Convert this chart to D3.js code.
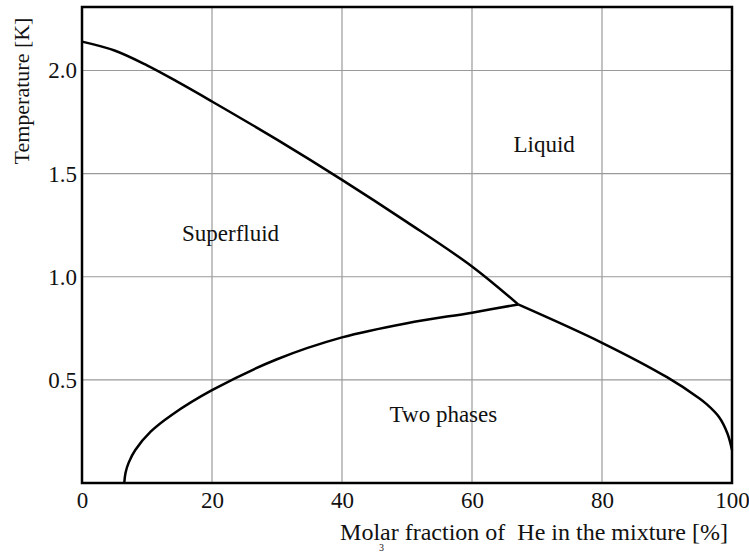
<!DOCTYPE html>
<html lang="en">
<head>
<meta charset="utf-8">
<title>He3-He4 phase diagram</title>
<script src="https://d3js.org/d3.v7.min.js"></script>
<style>
  body { margin: 0; background: #fff; }
  text { font-family: "Liberation Serif", "Times New Roman", serif; fill: #111; }
</style>
</head>
<body>
<script>
// tick values
var xTicks = [0, 20, 40, 60, 80, 100];
var yTicks = [0.5, 1.0, 1.5, 2.0];

// lambda line (superfluid transition)
var lambdaLine = [[0, 2.14], [5, 2.097], [10, 2.025], [15, 1.94], [20, 1.85],
                  [30, 1.665], [40, 1.47], [50, 1.265], [60, 1.05], [67.1, 0.866]];
// phase separation, He4-rich side
var leftBranch = [[6.5, 0], [6.7, 0.05], [7.2, 0.1], [8.2, 0.16], [10.6, 0.25],
                  [13.8, 0.33], [20, 0.45], [30, 0.6], [40, 0.706], [50, 0.775],
                  [60, 0.826], [67.1, 0.866]];
// phase separation, He3-rich side
var rightBranch = [[67.1, 0.866], [80, 0.68], [90, 0.513], [95, 0.41], [96, 0.385],
                   [98, 0.32], [99.3, 0.24], [100, 0.16]];

var regionLabels = [
  {text: "Liquid", x: 71.1, y: 1.606},
  {text: "Superfluid", x: 22.85, y: 1.171},
  {text: "Two phases", x: 55.6, y: 0.295}
];

var width = 749, height = 552;
var margin = {top: 7, right: 17, bottom: 69, left: 82};
var yMax = 2.308;

var svg = d3.select("body").append("svg")
    .attr("width", width)
    .attr("height", height);

var x = d3.scaleLinear().domain([0, 100]).range([margin.left, width - margin.right]);
var y = d3.scaleLinear().domain([0, yMax]).range([height - margin.bottom, margin.top]);

// grid
svg.append("g")
    .selectAll("line")
    .data(xTicks.slice(1, -1))
    .enter().append("line")
    .attr("x1", function (d) { return x(d); })
    .attr("x2", function (d) { return x(d); })
    .attr("y1", y(0))
    .attr("y2", y(yMax))
    .attr("stroke", "#9a9a9a")
    .attr("stroke-width", 1.2);

svg.append("g")
    .selectAll("line")
    .data(yTicks)
    .enter().append("line")
    .attr("x1", x(0))
    .attr("x2", x(100))
    .attr("y1", function (d) { return y(d); })
    .attr("y2", function (d) { return y(d); })
    .attr("stroke", "#9a9a9a")
    .attr("stroke-width", 1.2);

// curves
var line = d3.line()
    .x(function (d) { return x(d[0]); })
    .y(function (d) { return y(d[1]); })
    .curve(d3.curveCatmullRom.alpha(0.5));

[lambdaLine, leftBranch, rightBranch].forEach(function (data) {
  svg.append("path")
      .attr("d", line(data))
      .attr("fill", "none")
      .attr("stroke", "#000")
      .attr("stroke-width", 2.5);
});

// frame
svg.append("rect")
    .attr("x", x(0))
    .attr("y", y(yMax))
    .attr("width", x(100) - x(0))
    .attr("height", y(0) - y(yMax))
    .attr("fill", "none")
    .attr("stroke", "#000")
    .attr("stroke-width", 2.5);

// axes labels
var xAxis = d3.axisBottom(x).tickValues(xTicks).tickSize(0).tickPadding(9)
    .tickFormat(d3.format("d"));
var gx = svg.append("g")
    .attr("transform", "translate(0," + y(0) + ")")
    .call(xAxis);
gx.select(".domain").remove();
gx.selectAll("text")
    .style("font-family", "Liberation Serif")
    .style("font-size", "23px")
    .attr("fill", "#111");

var yAxis = d3.axisLeft(y).tickValues(yTicks).tickSize(0).tickPadding(5)
    .tickFormat(d3.format(".1f"));
var gy = svg.append("g")
    .attr("transform", "translate(" + x(0) + ",0)")
    .call(yAxis);
gy.select(".domain").remove();
gy.selectAll("text")
    .style("font-family", "Liberation Serif")
    .style("font-size", "23px")
    .attr("fill", "#111");

// region labels
svg.selectAll(".region")
    .data(regionLabels)
    .enter().append("text")
    .attr("class", "region")
    .attr("x", function (d) { return x(d.x); })
    .attr("y", function (d) { return y(d.y); })
    .attr("text-anchor", "middle")
    .style("font-size", "23px")
    .text(function (d) { return d.text; });

// axis titles
svg.append("text")
    .attr("x", 534)
    .attr("y", 540)
    .attr("text-anchor", "middle")
    .style("font-size", "24px")
    .style("white-space", "pre")
    .text("Molar fraction of  He in the mixture [%]");

svg.append("text")
    .attr("x", 379)
    .attr("y", 551)
    .style("font-size", "10px")
    .text("3");

svg.append("text")
    .attr("transform", "translate(29,91) rotate(-90)")
    .attr("text-anchor", "middle")
    .style("font-size", "22px")
    .text("Temperature [K]");
</script>
</body>
</html>
